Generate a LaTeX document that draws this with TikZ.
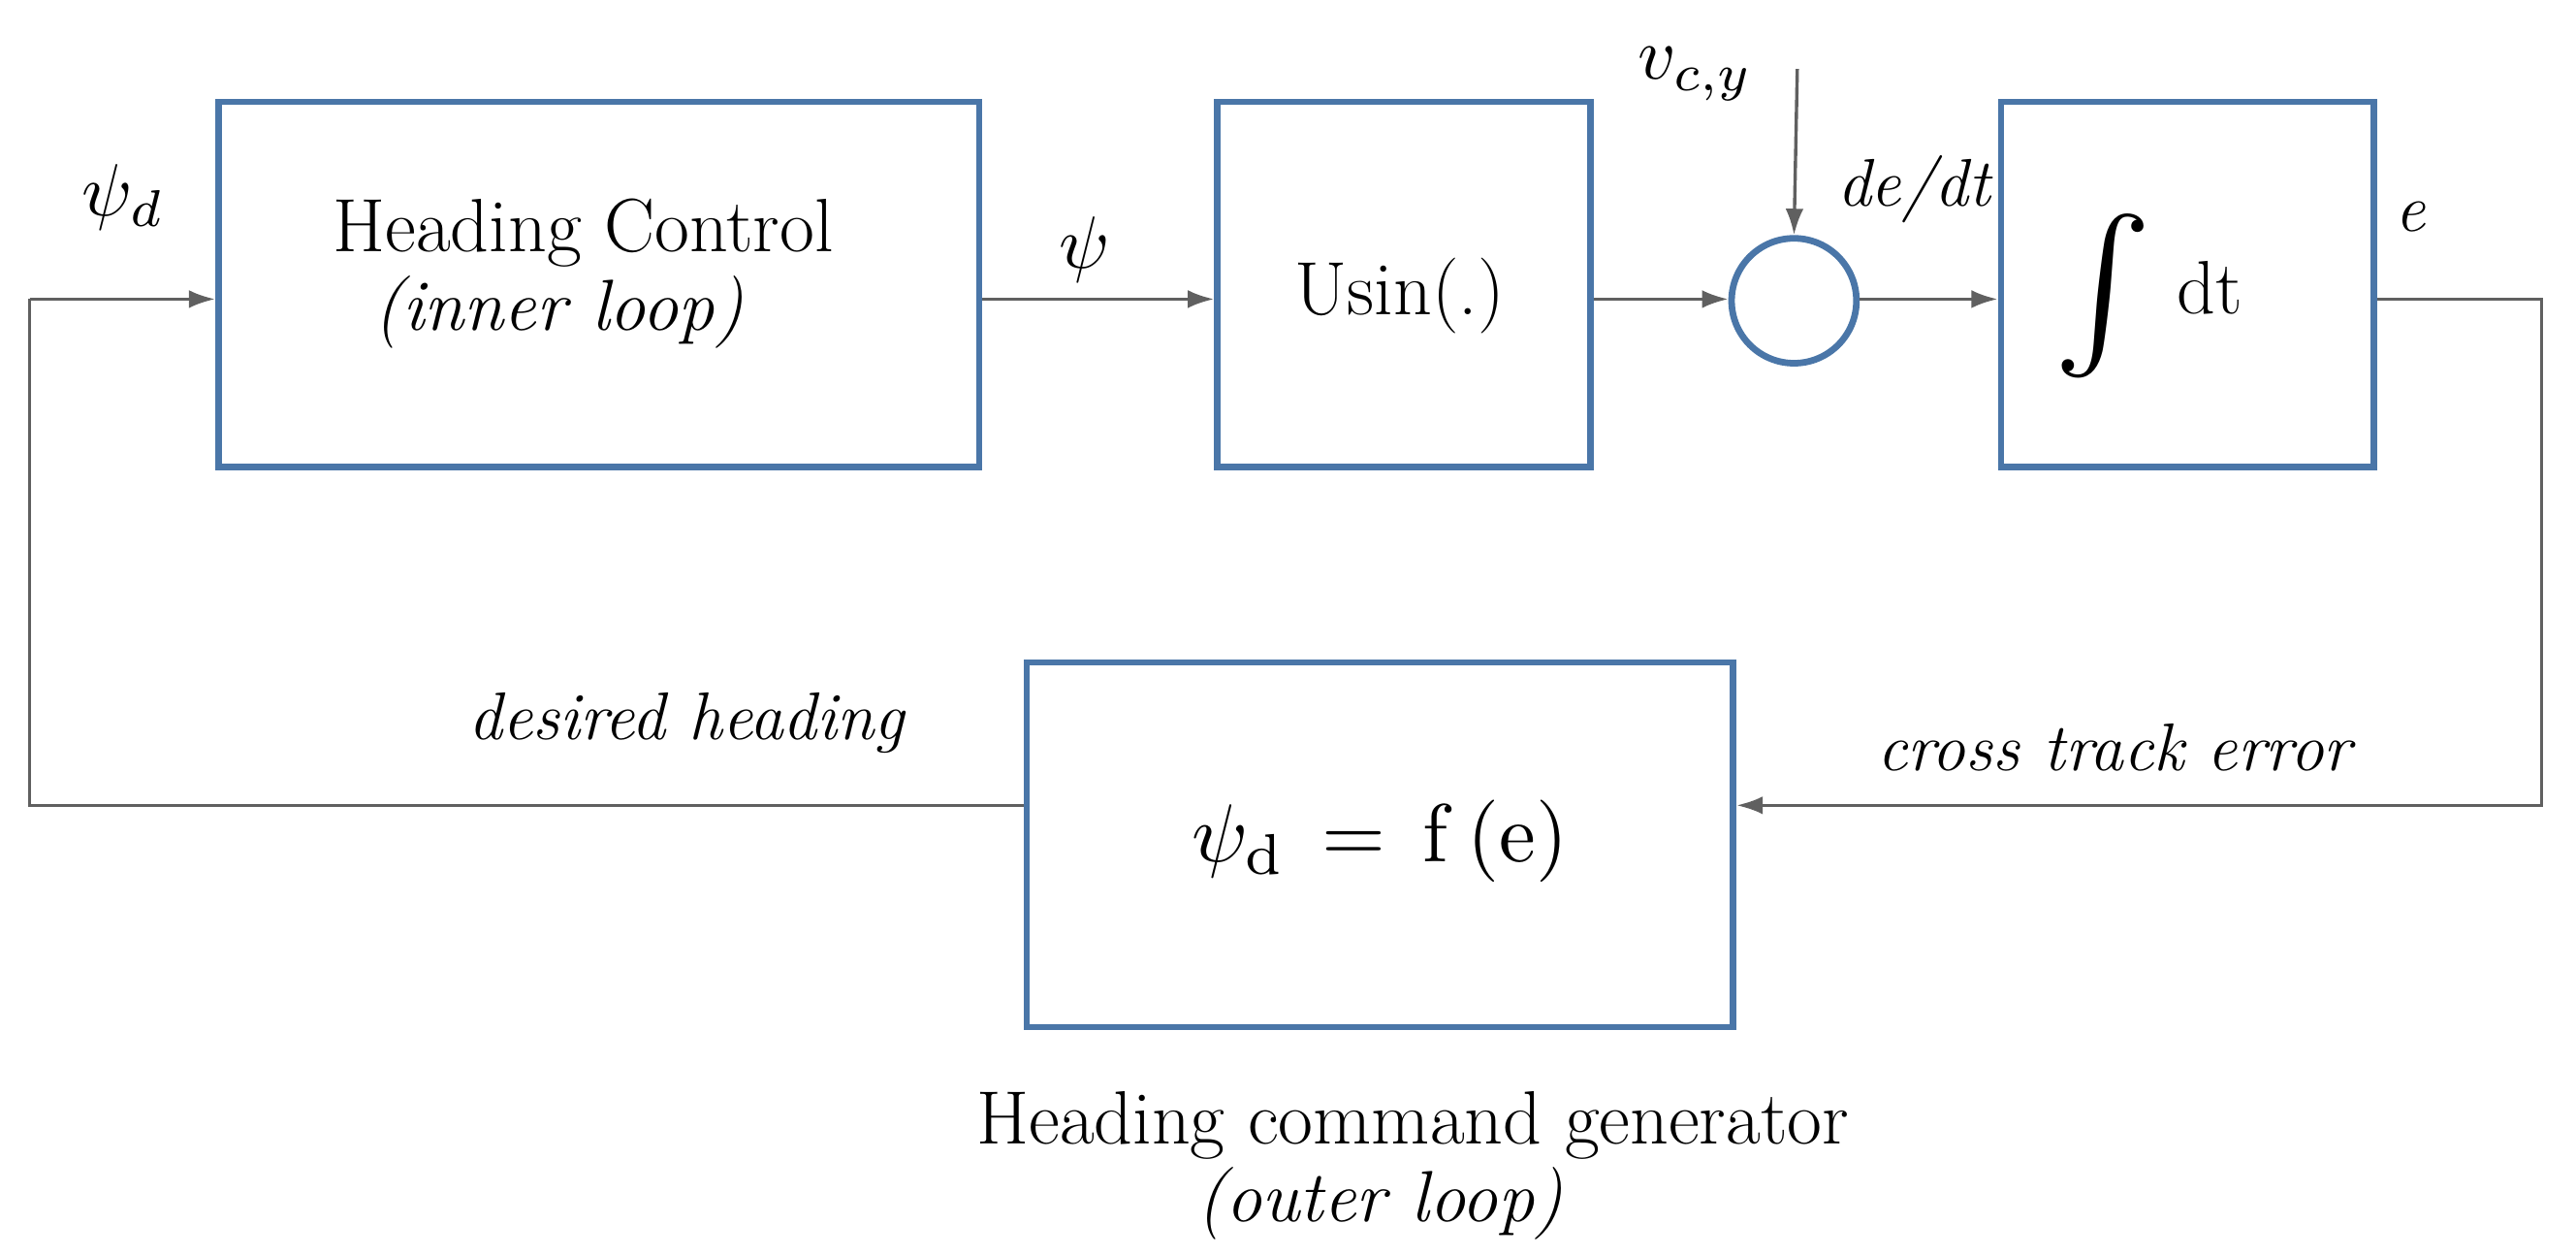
\documentclass[tikz,border=0pt]{standalone}
\usepackage{amsmath}
\usepackage{graphicx}
\usetikzlibrary{arrows.meta}
\begin{document}
\begin{tikzpicture}[x=1pt,y=-1pt,
  blk/.style={draw=boxblue,line width=4pt,inner sep=0pt},
  ln/.style={draw=lgray,line width=2pt},
  ar/.style={ln,-{Latex[length=16pt,width=11pt]}},
  txt/.style={font=\fontsize{46}{54}\selectfont},
  itx/.style={font=\fontsize{44}{52}\selectfont\itshape},
  lbl/.style={font=\fontsize{41}{48}\selectfont\itshape}]
\definecolor{boxblue}{HTML}{4A76A8}
\definecolor{lgray}{HTML}{606060}
\useasboundingbox (0,0) rectangle (1568,764);
\node[blk,minimum width=463pt,minimum height=222pt] (hc) at (364.5,173) {};
\node[blk,minimum width=227pt,minimum height=222pt] (us) at (854.5,173) {};
\node[blk,circle,minimum size=76pt] (sum) at (1092,183) {};
\node[blk,minimum width=227pt,minimum height=222pt] (in) at (1331.5,173) {};
\node[blk,minimum width=430pt,minimum height=222pt] (gen) at (840,514) {};
\node[txt] (hct) at (355,142) {Heading Control};
\node[itx] (hcl) at (340,190) {(inner loop)};
\node[txt] (ust) at (852,180) {Usin(.)};
\node (intg) at (1280,180) {\scalebox{9}{$\int$}};
\node[txt] (dt) at (1345,175) {dt};
\node (f) at (840,512) {\scalebox{5}{$\psi_{\mathrm{d}}\,=\,\mathrm{f\,(e)}$}};
\node[txt] (g1) at (860,685) {Heading command generator};
\node[itx] (g2) at (840,732) {(outer loop)};
\node (l1) at (75,120) {\scalebox{4.5}{$\psi_d$}};
\node (l2) at (660,152) {\scalebox{4.5}{$\psi$}};
\node (l3) at (1032,45) {\scalebox{4.5}{$v_{c,y}$}};
\node[lbl] (l4) at (1165,115) {de/dt};
\node[lbl] (l5) at (1467,132) {e};
\node[lbl] (l6) at (418,440) {desired heading};
\node[lbl] (l7) at (1287,455) {cross track error};
\coordinate (a) at (18,182);
\coordinate (b) at (18,490);
\coordinate (c) at (1547,182);
\coordinate (d) at (1547,490);
\coordinate (v) at (1094,42);
\draw[ar] (a) -- (hc.west|-a);
\draw[ar] (hc.east|-a) -- (us.west|-a);
\draw[ar] (us.east|-a) -- (sum.west|-a);
\draw[ar] (sum.east|-a) -- (in.west|-a);
\draw[ar] (v) -- (sum.north);
\draw[ar] (in.east|-c) -- (c) -- (d) -- (gen.east|-d);
\draw[ln] (gen.west|-b) -- (b) -- (a);
\end{tikzpicture}
\end{document}
